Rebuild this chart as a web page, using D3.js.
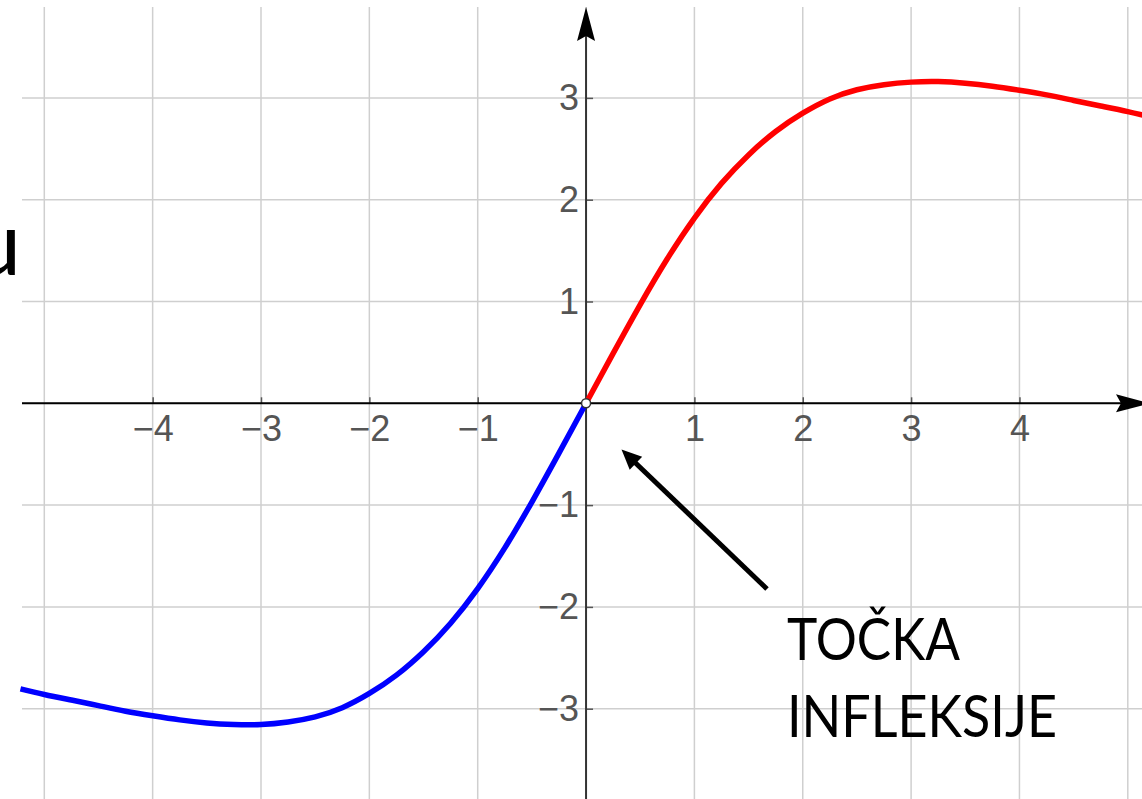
<!DOCTYPE html>
<html>
<head>
  <meta charset="utf-8">
  <title>Točka infleksije</title>
  <script src="https://d3js.org/d3.v7.min.js"></script>
  <style>
    body { margin: 0; background: #fff; }
    svg { display: block; }
  </style>
</head>
<body>

  <div></div>
  <script type="text/javascript">

  // values
  var redX  = [0, 0.25, 0.5, 0.75, 1, 1.25, 1.5, 1.75, 2, 2.25, 2.5, 2.75, 3, 3.25, 3.5, 3.75, 4, 4.25, 4.5, 4.75, 5, 5.2];
  var redY  = [0, 0.49, 0.97, 1.42, 1.82, 2.16, 2.44, 2.67, 2.85, 2.99, 3.08, 3.13, 3.155, 3.16, 3.145, 3.115, 3.075, 3.03, 2.975, 2.92, 2.865, 2.815];
  var blueX = [-5.22, -5, -4.75, -4.5, -4.25, -4, -3.75, -3.5, -3.25, -3, -2.75, -2.5, -2.25, -2, -1.75, -1.5, -1.25, -1, -0.75, -0.5, -0.25, 0];
  var blueY = [-2.805, -2.86, -2.915, -2.97, -3.025, -3.07, -3.11, -3.14, -3.155, -3.155, -3.13, -3.08, -2.99, -2.85, -2.67, -2.44, -2.16, -1.82, -1.42, -0.97, -0.49, 0];
  var xTicks = [-4, -3, -2, -1, 1, 2, 3, 4];
  var yTicks = [-3, -2, -1, 1, 2, 3];
  var xGrid = [-5, -4, -3, -2, -1, 0, 1, 2, 3, 4, 5];
  var yGrid = [-3, -2, -1, 0, 1, 2, 3];
  var labelLines = ["TOČKA", "INFLEKSIJE"];

  var W = 1142, H = 799;
  var svg = d3.select("div").append("svg").attr("width", W).attr("height", H);

  var x = d3.scaleLinear().domain([-5, 5]).range([44.3, 1127.8]);
  var y = d3.scaleLinear().domain([-3, 3]).range([708.7, 97.9]);
  var x0 = x(0), y0 = y(0);

  // grid
  svg.append("g").selectAll("line").data(xGrid).enter().append("line")
    .attr("x1", function(d){ return x(d); }).attr("x2", function(d){ return x(d); })
    .attr("y1", 7).attr("y2", H)
    .attr("stroke", "#cfcfcf").attr("stroke-width", 1.5);
  svg.append("g").selectAll("line").data(yGrid).enter().append("line")
    .attr("x1", 22).attr("x2", W)
    .attr("y1", function(d){ return y(d); }).attr("y2", function(d){ return y(d); })
    .attr("stroke", "#cfcfcf").attr("stroke-width", 1.5);

  // axes with ticks on the positive side
  var fmt = function(d){ return d < 0 ? "\u2212" + Math.abs(d) : String(d); };
  var xAxis = d3.axisBottom(x).tickValues(xTicks).tickFormat(fmt).tickSize(-6).tickPadding(12);
  var yAxis = d3.axisLeft(y).tickValues(yTicks).tickFormat(fmt).tickSize(-7).tickPadding(7);

  var gx = svg.append("g").attr("transform", "translate(0," + y0 + ")").call(xAxis);
  var gy = svg.append("g").attr("transform", "translate(" + x0 + ",0)").call(yAxis);
  [gx, gy].forEach(function(g){
    g.select(".domain").remove();
    g.selectAll(".tick line").attr("stroke", "#555").attr("stroke-width", 1.5);
    g.selectAll(".tick text").attr("fill", "#555")
      .style("font-family", "'Liberation Sans', Arial, sans-serif").style("font-size", "36px");
  });

  // axis lines + arrow heads
  svg.append("line").attr("x1", 22).attr("x2", 1125).attr("y1", y0).attr("y2", y0)
    .attr("stroke", "#000").attr("stroke-width", 2);
  svg.append("line").attr("x1", x0).attr("x2", x0).attr("y1", H).attr("y2", 30)
    .attr("stroke", "#333").attr("stroke-width", 2);
  svg.append("path")
    .attr("d", "M" + x0 + ",7 L" + (x0 + 9) + ",41 L" + x0 + ",36 L" + (x0 - 9) + ",41 Z")
    .attr("fill", "#000");
  svg.append("path")
    .attr("d", "M1150," + y0 + " L1116," + (y0 - 9) + " L1121," + y0 + " L1116," + (y0 + 9) + " Z")
    .attr("fill", "#000");

  // curve
  var line = d3.line().curve(d3.curveNatural)
    .x(function(d){ return x(d[0]); }).y(function(d){ return y(d[1]); });
  svg.append("path").datum(d3.zip(blueX, blueY)).attr("d", line)
    .attr("fill", "none").attr("stroke", "#0000ff").attr("stroke-width", 5.5);
  svg.append("path").datum(d3.zip(redX, redY)).attr("d", line)
    .attr("fill", "none").attr("stroke", "#ff0000").attr("stroke-width", 5.5);

  svg.append("circle").attr("cx", x0).attr("cy", y0).attr("r", 4.5)
    .attr("fill", "#fff").attr("stroke", "#333").attr("stroke-width", 1.5);

  // annotation arrow
  var tail = [767, 589], tip = [621.5, 449.5];
  var dx = tip[0] - tail[0], dy = tip[1] - tail[1], len = Math.sqrt(dx*dx + dy*dy);
  var ux = dx / len, uy = dy / len, hl = 20, hw = 9;
  var bx = tip[0] - ux * hl, by = tip[1] - uy * hl;
  svg.append("line").attr("x1", tail[0]).attr("y1", tail[1]).attr("x2", bx + ux*2).attr("y2", by + uy*2)
    .attr("stroke", "#000").attr("stroke-width", 5);
  svg.append("path")
    .attr("d", "M" + tip[0] + "," + tip[1] +
               " L" + (bx - uy*hw) + "," + (by + ux*hw) +
               " L" + (bx + uy*hw) + "," + (by - ux*hw) + " Z")
    .attr("fill", "#000");

  var lineWidths = [173, 270];
  svg.append("g").selectAll("text").data(labelLines).enter().append("text")
    .attr("x", 787).attr("y", function(d, i){ return 660 + i * 77; })
    .attr("textLength", function(d, i){ return lineWidths[i]; })
    .attr("lengthAdjust", "spacingAndGlyphs")
    .style("font-family", "Lato, 'Open Sans', sans-serif").style("font-size", "58px")
    .attr("fill", "#000")
    .text(function(d){ return d; });

  // cut-off letter at the left edge (as in the source slide)
  svg.append("text").attr("x", 21).attr("y", 275).attr("text-anchor", "end")
    .style("font-family", "Lato, 'Open Sans', sans-serif").style("font-size", "89px")
    .attr("fill", "#000").text("u");

  </script>

</body>
</html>
